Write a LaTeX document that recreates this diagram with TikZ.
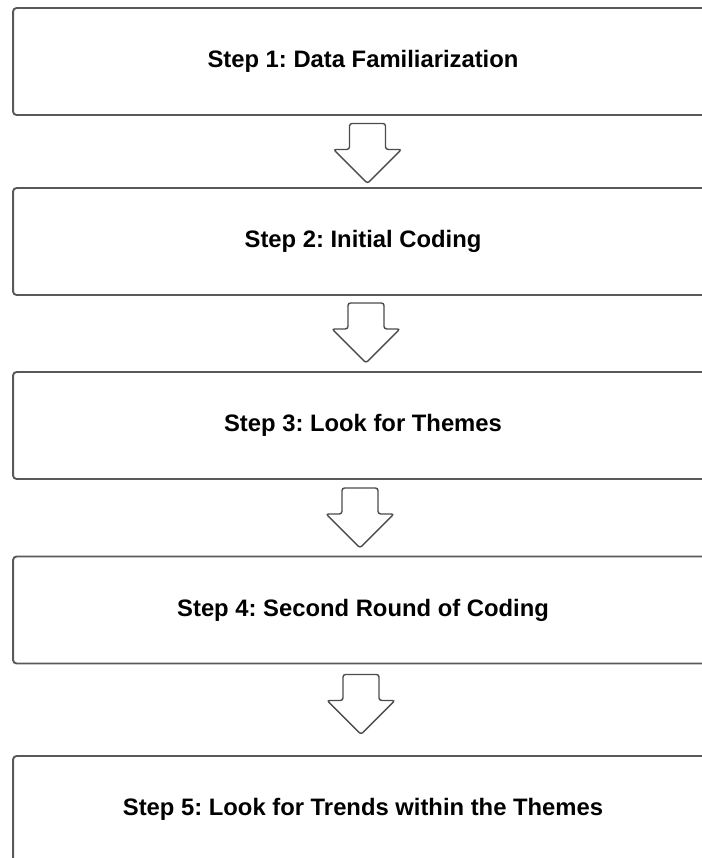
\documentclass[tikz,border=0pt]{standalone}
\usepackage{fontspec}
\setmainfont{Liberation Sans}
\usetikzlibrary{calc}
\frenchspacing

\tikzset{
	stepbox/.style={draw=black!65, line width=1.1pt, rounded corners=2pt, fill=white,
		minimum width=14cm, minimum height=2.14cm, inner sep=0pt,
		font=\fontsize{13.55}{16}\selectfont\bfseries},
	arrowline/.style={draw=black!70, line width=0.8pt, rounded corners=1.5pt, fill=white}
}

% block arrow pointing down, #1 = top centre of the shaft
\newcommand{\flowarrow}[1]{
	\draw[arrowline] (#1) ++(-18,0) -- ++(36,0) -- ++(0,26) -- ++(16,0)
	-- ++(-34,34) -- ++(-34,-34) -- ++(16,0) -- cycle;
}

\begin{document}
\begin{tikzpicture}[x={(0.02cm,0cm)}, y={(0cm,-0.02cm)}] % 1 unit = 1 px, y downwards
		
		\useasboundingbox (0,0) rectangle (702,858);
		\clip (0,0) rectangle (702,858);
		
		\node[stepbox] (step1) at (363,61.5) {Step 1: Data Familiarization};
		\node[stepbox] (step2) at (363,241.5) {Step 2: Initial Coding};
		\node[stepbox] (step3) at (363,425.5) {Step 3: Look for Themes};
		\node[stepbox] (step4) at (363,610) {Step 4: Second Round of Coding};
		\node[stepbox] (step5) at (363,809.5) {Step 5: Look for Trends within the Themes};
		
		\coordinate (a1) at ($(step1.south)+(4.5,7.5)$);
		\coordinate (a2) at ($(step2.south)+(3,7)$);
		\coordinate (a3) at ($(step3.south)+(-3,8)$);
		\coordinate (a4) at ($(step4.south)+(-2,10)$);
		
		\flowarrow{a1}
		\flowarrow{a2}
		\flowarrow{a3}
		\flowarrow{a4}
		\end{tikzpicture}
\end{document}
